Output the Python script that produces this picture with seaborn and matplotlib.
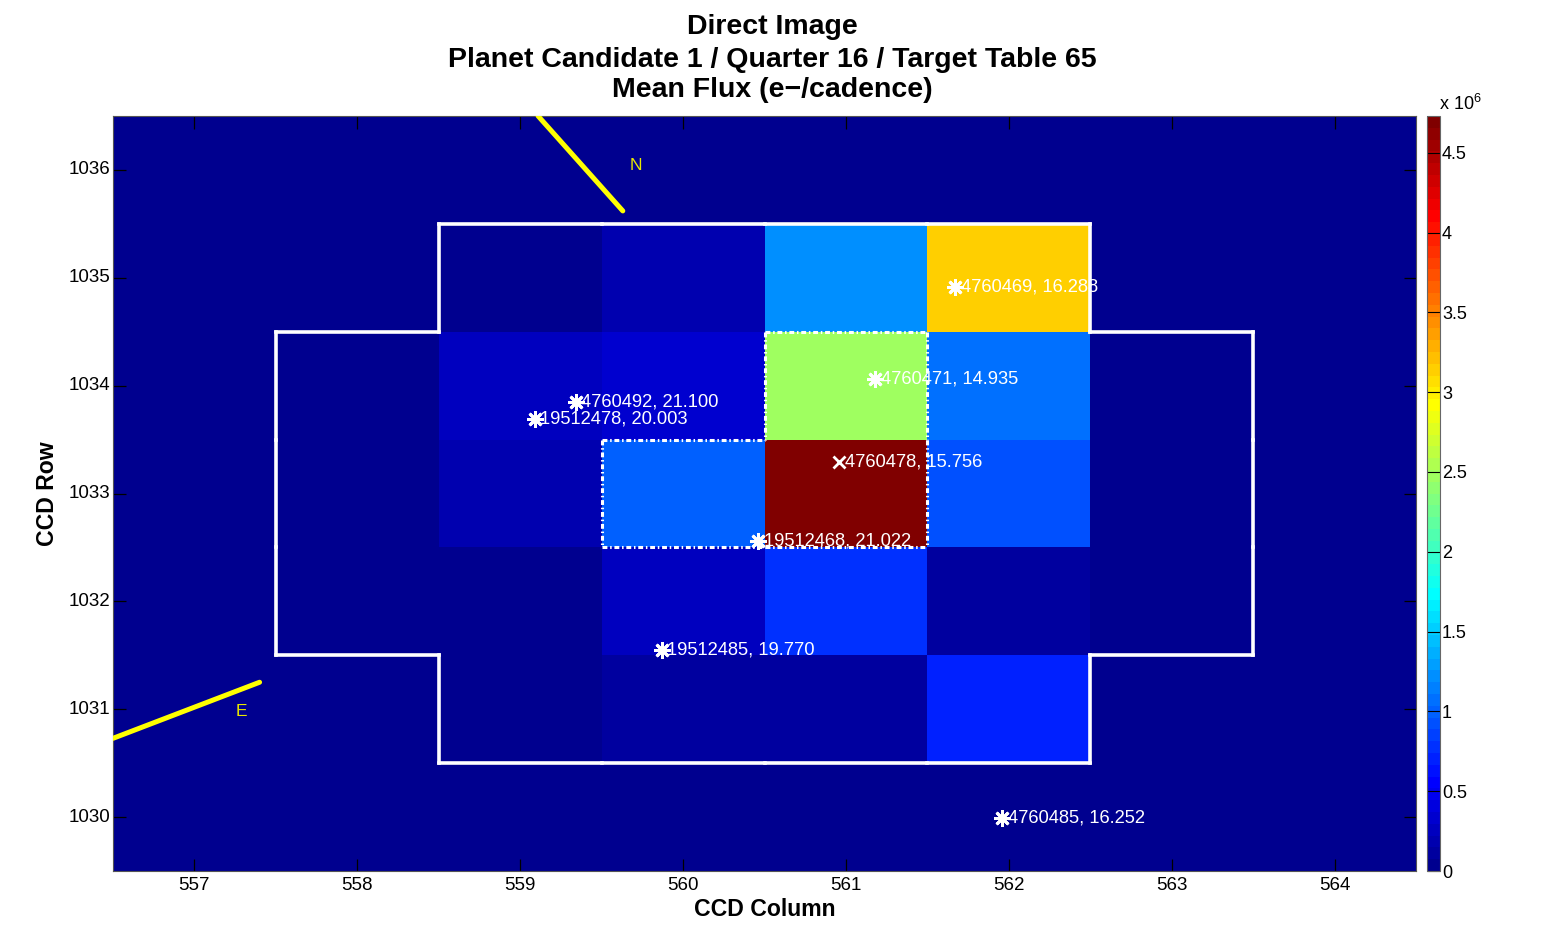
import numpy as np
import pandas as pd
import matplotlib
matplotlib.use("Agg")
import matplotlib.pyplot as plt
from matplotlib.colors import ListedColormap
from matplotlib.collections import LineCollection
import seaborn as sns

# ---------------- data ----------------
ccd_columns = [557, 558, 559, 560, 561, 562, 563, 564]
ccd_rows = [1036, 1035, 1034, 1033, 1032, 1031, 1030]

# mean flux per pixel, units of 1e6 e-/cadence (rows top -> bottom)
flux_1036 = [0.03, 0.03, 0.03, 0.03, 0.03, 0.03, 0.03, 0.03]
flux_1035 = [0.03, 0.03, 0.03, 0.18, 1.22, 3.14, 0.03, 0.03]
flux_1034 = [0.03, 0.03, 0.26, 0.33, 2.48, 1.07, 0.03, 0.03]
flux_1033 = [0.03, 0.03, 0.18, 0.99, 4.73, 0.95, 0.03, 0.03]
flux_1032 = [0.03, 0.03, 0.03, 0.26, 0.75, 0.11, 0.03, 0.03]
flux_1031 = [0.03, 0.03, 0.03, 0.11, 0.11, 0.70, 0.03, 0.03]
flux_1030 = [0.0, 0.03, 0.03, 0.03, 0.03, 0.03, 0.03, 0.03]

# target mask (1 = pixel collected)
mask_1036 = [0, 0, 0, 0, 0, 0, 0, 0]
mask_1035 = [0, 0, 1, 1, 1, 1, 0, 0]
mask_1034 = [0, 1, 1, 1, 1, 1, 1, 0]
mask_1033 = [0, 1, 1, 1, 1, 1, 1, 0]
mask_1032 = [0, 1, 1, 1, 1, 1, 1, 0]
mask_1031 = [0, 0, 1, 1, 1, 1, 0, 0]
mask_1030 = [0, 0, 0, 0, 0, 0, 0, 0]

# optimal aperture
aper_1036 = [0, 0, 0, 0, 0, 0, 0, 0]
aper_1035 = [0, 0, 0, 0, 0, 0, 0, 0]
aper_1034 = [0, 0, 0, 0, 1, 0, 0, 0]
aper_1033 = [0, 0, 0, 1, 1, 0, 0, 0]
aper_1032 = [0, 0, 0, 0, 0, 0, 0, 0]
aper_1031 = [0, 0, 0, 0, 0, 0, 0, 0]
aper_1030 = [0, 0, 0, 0, 0, 0, 0, 0]

# stars
star_kic = ["4760469", "4760471", "4760492", "19512478", "4760478",
            "19512468", "19512485", "4760485"]
star_mag = [16.288, 14.935, 21.100, 20.003, 15.756, 21.022, 19.770, 16.252]
star_col = [561.67, 561.18, 559.34, 559.09, 560.96, 560.46, 559.87, 561.96]
star_row = [1034.91, 1034.06, 1033.85, 1033.69, 1033.29, 1032.56, 1031.55, 1029.99]
target_kic = "4760478"

# compass arrows (col, row)
north_col = [559.11, 559.63]
north_row = [1036.50, 1035.62]
north_label = (559.71, 1036.04)
east_col = [556.50, 557.40]
east_row = [1030.73, 1031.25]
east_label = (557.29, 1030.98)

cbar_ticks = [0, 0.5, 1, 1.5, 2, 2.5, 3, 3.5, 4, 4.5]
cbar_labels = ["0", "0.5", "1", "1.5", "2", "2.5", "3", "3.5", "4", "4.5"]

# ---------------- style ----------------
plt.rcParams["font.family"] = ["Liberation Sans", "DejaVu Sans"]
plt.rcParams["mathtext.fontset"] = "custom"
plt.rcParams["mathtext.rm"] = "Liberation Sans"

# MATLAB jet(64)
def matlab_jet(n=64):
    q = n // 4
    out = []
    for i in range(1, n + 1):
        x = i / q
        r = np.clip(min(x - 1.5, 4.5 - x), 0, 1)
        g = np.clip(min(x - 0.5, 3.5 - x), 0, 1)
        b = np.clip(min(x + 0.5, 2.5 - x), 0, 1)
        out.append((r, g, b))
    return ListedColormap(out)

jet64 = matlab_jet(64)

W, H = 1557, 926
L, R, T, B = 113, 1416, 116, 871
fig = plt.figure(figsize=(W / 100, H / 100), dpi=100)
ax = fig.add_axes([L / W, 1 - B / H, (R - L) / W, (B - T) / H])
cax = fig.add_axes([1427 / W, 1 - B / H, 13 / W, (B - T) / H])

flux = pd.DataFrame([flux_1036, flux_1035, flux_1034, flux_1033,
                     flux_1032, flux_1031, flux_1030],
                    index=ccd_rows, columns=ccd_columns)
mask = np.array([mask_1036, mask_1035, mask_1034, mask_1033,
                 mask_1032, mask_1031, mask_1030], bool)
aper = np.array([aper_1036, aper_1035, aper_1034, aper_1033,
                 aper_1032, aper_1031, aper_1030], bool)

sns.heatmap(flux, ax=ax, cbar_ax=cax, cmap=jet64,
            vmin=0, vmax=float(flux.values.max()),
            xticklabels=ccd_columns, yticklabels=ccd_rows)

# data -> heatmap index coordinates
def xi(c):
    return np.asarray(c, float) - ccd_columns[0] + 0.5

def yi(r):
    return ccd_rows[0] - np.asarray(r, float) + 0.5

def outline_segments(m):
    nr, nc = m.shape
    segs = []
    for i in range(nr):
        for j in range(nc):
            if not m[i, j]:
                continue
            if i == 0 or not m[i - 1, j]:
                segs.append([(j, i), (j + 1, i)])
            if i == nr - 1 or not m[i + 1, j]:
                segs.append([(j, i + 1), (j + 1, i + 1)])
            if j == 0 or not m[i, j - 1]:
                segs.append([(j, i), (j, i + 1)])
            if j == nc - 1 or not m[i, j + 1]:
                segs.append([(j + 1, i), (j + 1, i + 1)])
    return segs

ax.add_collection(LineCollection(outline_segments(mask), colors="white",
                                 linewidths=2.6, capstyle="projecting", zorder=3))
ax.add_collection(LineCollection(outline_segments(aper), colors="white",
                                 linewidths=2.2, linestyles=[(0, (1.6, 0.9, 0.5, 0.9))],
                                 zorder=4))

# compass
ax.plot(xi(north_col), yi(north_row), color="#ffff00", lw=3.6,
        solid_capstyle="round", zorder=5)
ax.plot(xi(east_col), yi(east_row), color="#ffff00", lw=3.6,
        solid_capstyle="round", zorder=5)
ax.text(xi(north_label[0]), yi(north_label[1]), "N", color="#e8e800",
        fontsize=12.5, ha="center", va="center")
ax.text(xi(east_label[0]), yi(east_label[1]), "E", color="#e8e800",
        fontsize=12.5, ha="center", va="center")

# stars
for kic, mag, c, r in zip(star_kic, star_mag, star_col, star_row):
    mk = "x" if kic == target_kic else (8, 2, 0)
    ms = 9 if kic == target_kic else 12
    ax.plot([xi(c)], [yi(r)], ls="none", marker=mk, ms=ms, mew=2.0,
            color="white", zorder=6)
    ax.annotate(f"{kic}, {mag:.3f}", (xi(c), yi(r)), xytext=(4, 0),
                textcoords="offset points", color="white", fontsize=13.2,
                ha="left", va="center", zorder=7)

# axes styling
ax.set_xlim(0, len(ccd_columns))
ax.set_ylim(len(ccd_rows), 0)
for s in ax.spines.values():
    s.set_visible(True)
    s.set_color("#555555")
    s.set_linewidth(0.8)
ax.tick_params(axis="both", direction="in", top=True, right=True,
               length=9, width=0.9, color="black", labelsize=13.5,
               labelcolor="black")
ax.tick_params(axis="x", pad=4.5)
ax.tick_params(axis="y", pad=2)
plt.setp(ax.get_yticklabels(), rotation=0)
plt.setp(ax.get_xticklabels(), rotation=0)
ax.set_xlabel("CCD Column", fontsize=16.6, fontweight="bold", labelpad=3)
ax.set_ylabel("CCD Row", fontsize=16.6, fontweight="bold", labelpad=7)

# colorbar
cb = ax.collections[0].colorbar
cb.set_ticks(cbar_ticks)
cb.set_ticklabels(cbar_labels)
cb.outline.set_visible(True)
cb.outline.set_linewidth(0.8)
cb.outline.set_edgecolor("#666666")
cax.tick_params(direction="in", length=9.4, width=0.8, color="black",
                labelsize=13, pad=1.5)
fig.text(1439 / W, 1 - 104 / H, r"x 10$^{6}$", fontsize=13,
         ha="left", va="center")

# title
title_lines = ["Direct Image",
               "Planet Candidate 1 / Quarter 16 / Target Table 65",
               "Mean Flux (e\u2212/cadence)"]
title_y = [27, 60, 90]
for line, y in zip(title_lines, title_y):
    fig.text(772 / W, 1 - y / H, line, fontsize=20.5, fontweight="bold",
             ha="center", va="center")

fig.savefig("out.png", dpi=100)
